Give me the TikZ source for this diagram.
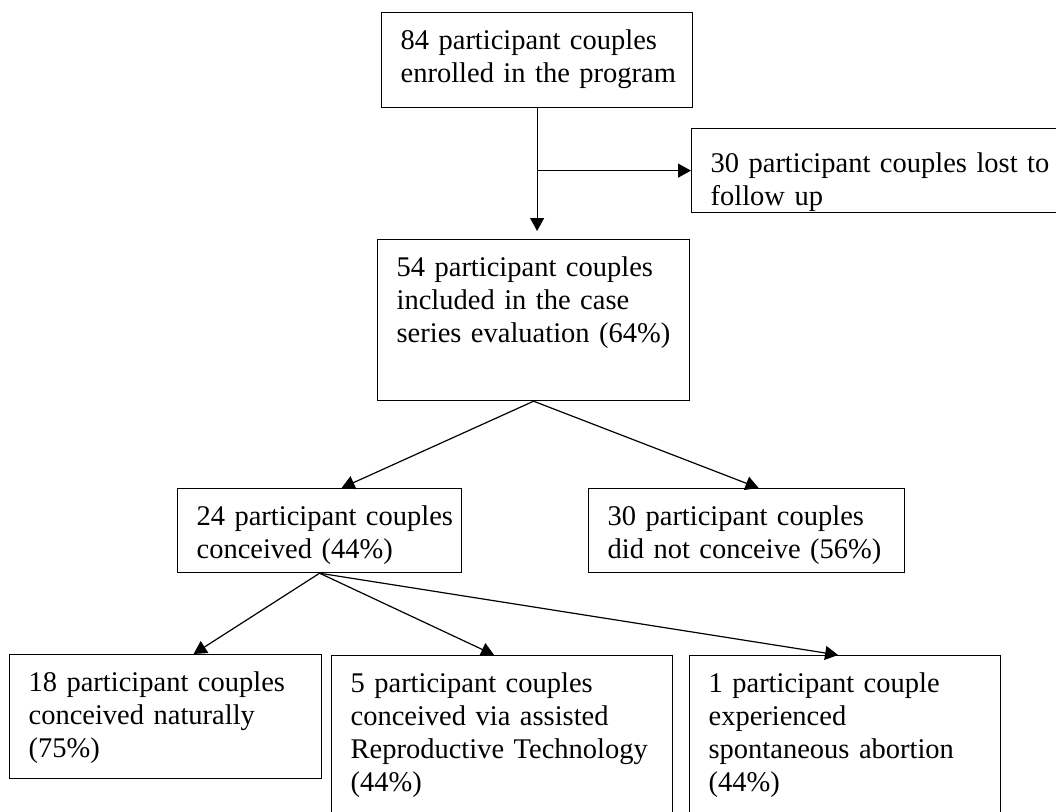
\documentclass[tikz,border=0pt]{standalone}
\usepackage{fontspec}
\setmainfont{Liberation Serif}
\usetikzlibrary{positioning, arrows.meta}
\tikzset{flowchart/.style={
    x=1pt, y=-1pt,
    stage/.style={rectangle, draw=black, line width=1.2pt, anchor=north west, align=left, inner xsep=0pt, inner ysep=0pt, text height=37pt, font=\fontsize{28.5}{33}\selectfont, execute at begin node={\leftskip=19pt\hyphenpenalty=10000\relax}},
    flow/.style={line width=1.2pt, -{Triangle[length=13pt, width=14pt]}},
}}

\begin{document}
\begin{tikzpicture}[flowchart]
    \useasboundingbox (0,0) rectangle (1056,811);
    \node[stage, text width=311pt, text depth=58pt] (enrol) at (381,12) {84 participant couples\\enrolled in the program};
    \node[stage, text width=400pt, text height=44pt, text depth=40pt] (lost) at (691,128) {30 participant couples lost to\\follow up};
    \node[stage, text width=312pt, text depth=124pt] (included) at (377,239) {54 participant couples\\included in the case\\series evaluation (64\%)};
    \node[stage, text width=284pt, text depth=47pt] (conceived) at (177,488) {24 participant couples\\conceived (44\%)};
    \node[stage, text width=316pt, text depth=47pt] (notconceived) at (588,488) {30 participant couples\\did not conceive (56\%)};
    \node[stage, text width=312pt, text depth=87pt] (natural) at (9,654) {18 participant couples\\conceived naturally\\(75\%)};
    \node[stage, text width=341pt, text depth=163pt] (assisted) at (331,655) {5 participant couples\\conceived via assisted\\Reproductive Technology\\(44\%)};
    \node[stage, text width=311pt, text depth=163pt] (abortion) at (689,655) {1 participant couple\\experienced\\spontaneous abortion\\(44\%)};

    \draw[flow, shorten >=8pt] (enrol.south) -- (enrol.south |- included.north);
    \draw[flow] (enrol.south |- lost.west) -- (lost.west);
    \draw[flow] (included.south) -- ([xshift=22pt]conceived.north);
    \draw[flow] (included.south) -- ([xshift=12pt]notconceived.north);
    \draw[flow] (conceived.south) -- ([xshift=28pt]natural.north);
    \draw[flow] (conceived.south) -- ([xshift=-8pt]assisted.north);
    \draw[flow] (conceived.south) -- ([xshift=-7pt]abortion.north);
\end{tikzpicture}
\end{document}
